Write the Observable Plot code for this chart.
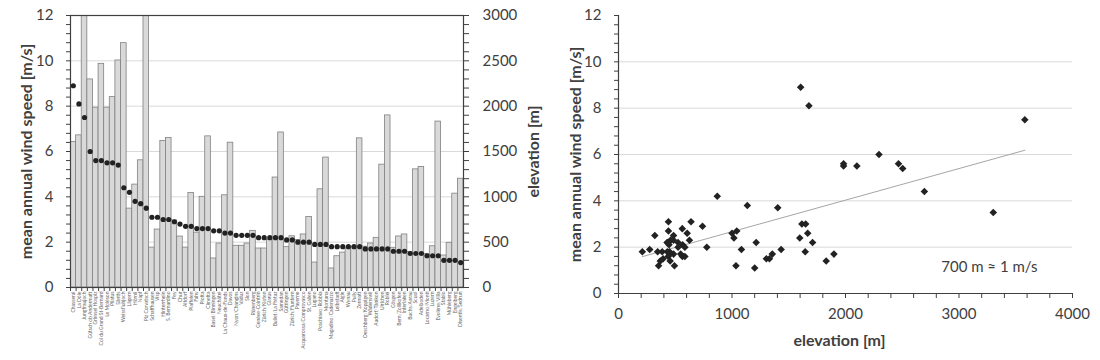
<!DOCTYPE html>
<html><head><meta charset="utf-8">
<script src="https://cdn.jsdelivr.net/npm/d3@7"></script>
<script src="https://cdn.jsdelivr.net/npm/@observablehq/plot@0.6"></script>
<style>
body{margin:0;background:#fff;font-family:Lato, "Open Sans", sans-serif;}
#wrap{position:relative;width:1100px;height:360px;overflow:hidden;}
#wrap svg{position:absolute;top:0;}
</style></head><body><div id="wrap"></div>
<script>
const stations = ["Chasseral","La Dôle","Jungfraujoch","Gütsch ob Andermatt","Grimsel Hospiz","Col du Grand St-Bernard","Le Moléson","Pilatus","Säntis","Weissfluhjoch","Lägern","Hörnli","Napf","Piz Corvatsch","Schaffhausen","Visp","Hinterrhein","S. Bernardino","Fey","Chur","Altdorf","Plaffeien","Fahy","Piotta","Cimetta","Basel/Binningen","Neuchâtel","La Chaux-de-Fonds","Davos","Nyon/Changins","Vaduz","Sion","Rünenberg","Genève-Cointrin","Zürich/Kloten","Glarus","Bullet/La Frétaz","Samedan","Güttingen","Zürich/Fluntern","Payerne","Acquarossa/Comprovasco","St. Gallen","Lugano","Poschiavo/Robbia","Montana","Magadino/Cadenazzo","Leibstadt","Aigle","Wynau","Pully","Zermatt","Oeschberg/Koppigen","Wädenswil","Aadorf/Tänikon","Ulrichen","Robiei","Gösgen","Bern/Zollikofen","Interlaken","Buchs/Aarau","Scuol","Adelboden","Locarno/Monti","Luzern","Evolène/Villa","Stabio","Mühleberg","Engelberg","Disentis/Sedrun"];
const elevation = [1605,1678,3580,2295,1983,2467,1983,2100,2504,2695,870,1135,1403,3302,440,639,1616,1649,740,562,440,1042,605,1000,1667,320,485,1017,1597,460,460,485,625,430,430,525,1213,1710,445,565,525,585,778,275,1083,1433,210,345,385,430,450,1645,450,485,548,1355,1898,438,563,585,393,1303,1330,368,455,1830,353,493,1035,1200];
const windSpeed = [8.9,8.1,7.5,6.0,5.6,5.6,5.5,5.5,5.4,4.4,4.2,3.8,3.7,3.5,3.1,3.1,3.0,3.0,2.9,2.8,2.7,2.7,2.6,2.6,2.6,2.5,2.5,2.4,2.4,2.3,2.3,2.3,2.3,2.2,2.2,2.2,2.2,2.2,2.1,2.1,2.0,2.0,2.0,1.9,1.9,1.9,1.8,1.8,1.8,1.8,1.8,1.8,1.7,1.7,1.7,1.7,1.7,1.6,1.6,1.6,1.5,1.5,1.5,1.4,1.4,1.4,1.2,1.2,1.2,1.1];
const windTicks = [0,2,4,6,8,10,12];
const windGrid = [2,4,6,8,10];
const elevTicks = [0,500,1000,1500,2000,2500,3000];
const elevGrid = [500,1000,1500,2000,2500];
const scatterXTicks = [0,1000,2000,3000,4000];
const windLabel = "mean annual wind speed [m/s]";
const elevLabel = "elevation [m]";
const annotation = "700 m ≈ 1 m/s";

const table = stations.map((s, i) => ({station: s, elev: elevation[i], wind: windSpeed[i]}));
const wrap = document.getElementById("wrap");
const ink = "#404040";
const font = "Lato, 'Open Sans', sans-serif";
const plain = d => String(d);

// left panel geometry
const L = {width: 560, height: 360, marginLeft: 70, marginRight: 97, marginTop: 15, marginBottom: 73};
const minorWind = d3.range(0, 12.0001, 0.4);
const minorElev = d3.range(0, 3000.1, 100);

// layer A: bars + right axis
const layerA = Plot.plot({
  ...L,
  style: {background: "transparent", fontFamily: font, color: ink},
  x: {type: "band", domain: stations, padding: 0, axis: null},
  y: {domain: [0, 3000]},
  marks: [
    Plot.gridY(elevGrid, {stroke: "#d9d9d9", strokeOpacity: 1}),
    Plot.barY(table, {x: "station", y: "elev", fill: "#d9d9d9", stroke: "#808080", strokeWidth: 0.8, clip: true}),
    Plot.axisY({anchor: "right", ticks: minorElev, tickSize: 5, tickFormat: () => "", label: null, stroke: ink}),
    Plot.axisY({anchor: "right", ticks: elevTicks, tickSize: 0, tickPadding: 19, fontSize: 15, tickFormat: plain, label: null, fill: ink}),
    Plot.text([elevLabel], {frameAnchor: "right", dx: 70, rotate: -90, textAnchor: "middle", lineAnchor: "middle", fontSize: 16, fontWeight: "bold", fill: ink})
  ]
});
layerA.style.left = "0px";
wrap.appendChild(layerA);

// layer B: dots + left axis + category axis
const layerB = Plot.plot({
  ...L,
  style: {background: "transparent", fontFamily: font, color: ink},
  x: {type: "band", domain: stations, padding: 0},
  y: {domain: [0, 12]},
  marks: [
    Plot.frame({stroke: ink, strokeWidth: 1.2}),
    Plot.axisY({anchor: "left", ticks: minorWind, tickSize: 4, tickFormat: () => "", label: null, stroke: ink}),
    Plot.axisY({anchor: "left", ticks: windTicks, tickSize: 0, tickPadding: 17, fontSize: 15, tickFormat: plain, label: null, fill: ink}),
    Plot.axisX({anchor: "bottom", tickSize: 4, dx: -2.8, tickFormat: () => "", label: null, stroke: ink}),
    Plot.axisX({anchor: "bottom", tickSize: 0, tickPadding: 4, tickRotate: -90, fontSize: 5, label: null, fill: "#666"}),
    Plot.dot(table, {x: "station", y: "wind", r: 2.6, fill: "#222", stroke: "none"}),
    Plot.text([windLabel], {frameAnchor: "left", dx: -44, rotate: -90, textAnchor: "middle", lineAnchor: "middle", fontSize: 16, fontWeight: "bold", fill: ink})
  ]
});
layerB.style.left = "0px";
wrap.appendChild(layerB);

// right panel: scatter
const right = Plot.plot({
  width: 540, height: 360, marginLeft: 58, marginRight: 28, marginTop: 15, marginBottom: 67,
  style: {background: "transparent", fontFamily: font, color: ink},
  x: {domain: [0, 4000]},
  y: {domain: [0, 12]},
  marks: [
    Plot.gridY(windGrid, {stroke: "#d9d9d9", strokeOpacity: 1}),
    Plot.axisY({anchor: "left", ticks: minorWind, tickSize: 4, tickFormat: () => "", label: null, stroke: ink}),
    Plot.axisY({anchor: "left", ticks: windTicks, tickSize: 0, tickPadding: 17, fontSize: 15, tickFormat: plain, label: null, fill: ink}),
    Plot.axisX({anchor: "bottom", ticks: d3.range(0, 4000.1, 200), tickSize: 5, tickFormat: () => "", label: null, stroke: ink}),
    Plot.axisX({anchor: "bottom", ticks: scatterXTicks, tickSize: 0, tickPadding: 15, fontSize: 15, tickFormat: plain, label: null, fill: ink}),
    Plot.ruleY([0], {stroke: ink, strokeWidth: 1.2}),
    Plot.ruleX([0], {stroke: ink, strokeWidth: 1.2}),
    Plot.linearRegressionY(table, {x: "elev", y: "wind", stroke: "#a6a6a6", strokeWidth: 1, ci: 0}),
    Plot.dot(table, {x: "elev", y: "wind", symbol: "diamond2", r: 3.4, fill: "#222", stroke: "none"}),
    Plot.text([annotation], {frameAnchor: "bottom-right", dx: -35, dy: -26, textAnchor: "end", lineAnchor: "middle", fontSize: 15, fill: ink}),
    Plot.text([windLabel], {frameAnchor: "left", dx: -43, rotate: -90, textAnchor: "middle", lineAnchor: "middle", fontSize: 16, fontWeight: "bold", fill: ink}),
    Plot.text([elevLabel], {frameAnchor: "bottom", dx: -6, dy: 47, textAnchor: "middle", lineAnchor: "middle", fontSize: 16, fontWeight: "bold", fill: ink})
  ]
});
right.style.left = "560px";
wrap.appendChild(right);
</script>
</body></html>
